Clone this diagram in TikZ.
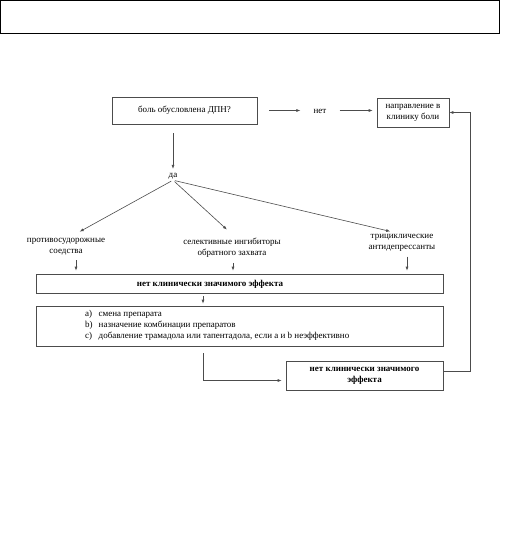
\documentclass[tikz,border=0pt]{standalone}
\usepackage{fontspec}
\setmainfont{Liberation Serif}
\usetikzlibrary{arrows.meta}

\tikzset{
	box/.style={draw=black!70, line width=0.6pt, align=center, inner sep=1pt},
	txt/.style={align=center, inner sep=1pt},
	link/.style={draw=black!70, line width=0.6pt, -{Latex[length=4pt,width=3pt]}},
}

\begin{document}
\begin{tikzpicture}[x=1pt, y=-1pt, font=\fontsize{9}{11}\selectfont]
		\useasboundingbox (0,0) rectangle (516,545);
		\draw[line width=1pt] (0.5,0.5) rectangle (499,34);

		% top row
		\node[box, minimum width=145pt, minimum height=27pt] (cause) at (184.5,110.5) {боль обусловлена ДПН?};
		\node[txt] (no) at (320,111) {нет};
		\node[box, minimum width=72pt, minimum height=29pt] (clinic) at (413,112.5) {направление в\\клинику боли};
		\draw[link, shorten <=12pt, shorten >=12pt] (cause.east) -- (no.west |- cause.east);
		\draw[link, shorten <=12pt, shorten >=4pt] (no.east |- cause.east) -- (clinic.west |- cause.east);

		% yes and three groups
		\node[txt] (yes) at (173,176) {да};
		\draw[link, shorten <=9pt, shorten >=3pt] (cause.south -| yes.north) -- (yes.north);

		\node[txt, anchor=north] (anticonv) at (66,237) {противосудорожные\\соедства};
		\node[txt, anchor=north] (ssri) at (232,237) {селективные ингибиторы\\обратного захвата};
		\node[txt, anchor=north] (tca) at (402,233) {трициклические\\антидепрессанты};
		\draw[link, shorten <=2pt, shorten >=11pt] (yes.south) -- ([xshift=4pt]anticonv.north);
		\draw[link, shorten <=2pt, shorten >=11pt] (yes.south) -- ([xshift=3pt]ssri.north);
		\draw[link, shorten <=2pt, shorten >=7pt] (yes.south) -- ([xshift=-5pt]tca.north);

		% no effect
		\node[box, minimum width=407pt, minimum height=19pt] (noeff) at (239.5,283.5) {};
		\node[txt, font=\fontsize{9}{11}\selectfont\bfseries] (noefftext) at (210,284) {нет клинически значимого эффекта};
		\draw[link, shorten <=4pt, shorten >=3pt] ([xshift=10pt]anticonv.south) -- ([xshift=10pt]anticonv.south |- noeff.north);
		\draw[link, shorten <=4pt, shorten >=3pt] ([xshift=1pt]ssri.south) -- ([xshift=1pt]ssri.south |- noeff.north);
		\draw[link, shorten <=4pt, shorten >=3pt] ([xshift=5pt]tca.south) -- ([xshift=5pt]tca.south |- noeff.north);

		% options
		\node[box, minimum width=407pt, minimum height=40pt] (options) at (239.5,326) {};
		\node[txt, anchor=west] (optionstext) at (84,325) {\begin{tabular}{@{}l@{\hspace{6pt}}l@{}}
			a) & смена препарата\\
			b) & назначение комбинации препаратов\\
			c) & добавление трамадола или тапентадола, если a и b неэффективно
		\end{tabular}};
		\draw[link, shorten <=3pt, shorten >=2pt] ([xshift=-36.5pt]noeff.south) -- ([xshift=-36.5pt]options.north);

		% second no effect
		\node[box, minimum width=157pt, minimum height=29pt, font=\fontsize{9}{11}\selectfont\bfseries] (noeff2) at (364.5,375.5) {нет клинически значимого\\эффекта};
		\draw[link, shorten >=4pt] ([xshift=-36.5pt, yshift=-7pt]options.south) |- ([yshift=-5pt]noeff2.west);
		\draw[link] ([yshift=4pt]noeff2.east) -- ++(27,0) |- (clinic.east);

		\end{tikzpicture}
\end{document}
